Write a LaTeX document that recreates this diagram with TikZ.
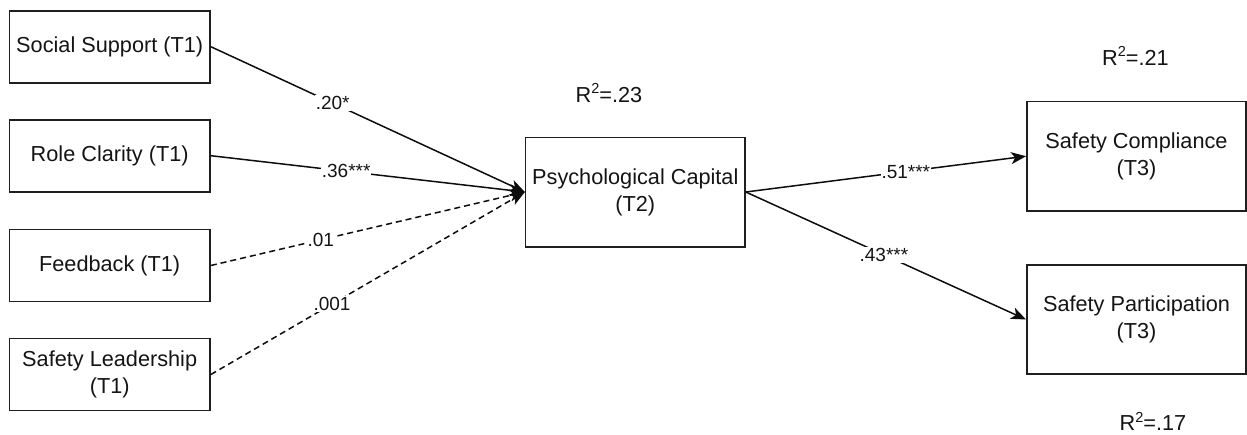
\documentclass[tikz,border=0pt]{standalone}
\usepackage{fontspec}
\setmainfont{Liberation Sans}
\usetikzlibrary{arrows.meta}
\newcommand\varfont{\fontsize{21.7pt}{27pt}\selectfont}
\newcommand\coeffont{\fontsize{19pt}{22pt}\selectfont}
% squared sign for the R-squared labels
\newcommand\sqtwo{\raisebox{8.3pt}{\fontsize{14.5pt}{14.5pt}\selectfont 2}}
\begin{document}
\begin{tikzpicture}[x=1pt,y=-1pt,
  var/.style={draw=black!88, line width=1.6pt, rectangle, inner sep=0pt,
    align=center, font=\varfont, text=black!92},
  leftvar/.style={var, minimum width=200.7pt, minimum height=72pt},
  rightvar/.style={var, minimum width=219.3pt, minimum height=109.4pt},
  link/.style={line width=1.5pt, draw=black!95,
    -{Stealth[length=15pt,width=12pt,inset=4pt]}},
  weak/.style={link, dash pattern=on 6pt off 4pt},
  coef/.style={fill=white, inner sep=1pt, font=\coeffont, text=black!92},
  rsq/.style={font=\varfont, inner sep=0pt, anchor=base, text=black!92}]

\useasboundingbox (0,0) rectangle (1247,434);

% predictors measured at T1
\node[leftvar] (ss) at (109.7,46.7)  {Social Support (T1)};
\node[leftvar] (rc) at (109.7,155.7) {Role Clarity (T1)};
\node[leftvar] (fb) at (109.7,265.5) {Feedback (T1)};
\node[leftvar] (sl) at (109.7,374.5) {Safety Leadership\\(T1)};

% mediator and outcomes
\node[rightvar] (pc) at (635.3,192)   {Psychological Capital\\(T2)};
\node[rightvar] (sc) at (1136.5,156.2) {Safety Compliance\\(T3)};
\node[rightvar] (sp) at (1136.5,319.5) {Safety Participation\\(T3)};

% explained variance
\node[rsq] (r2pc) at (609,102)    {R\sqtwo=.23};
\node[rsq] (r2sc) at (1135.5,65)  {R\sqtwo=.21};
\node[rsq] (r2sp) at (1153,430.5) {R\sqtwo=.17};

% paths into psychological capital
\draw[link] (ss.east) -- (pc.west) node[coef, pos=0.388] {.20*};
\draw[link] (rc.east) -- (pc.west) node[coef, pos=0.431] {.36***};
\draw[weak] (fb.east) -- (pc.west) node[coef, pos=0.35]  {.01};
\draw[weak] (sl.east) -- (pc.west) node[coef, pos=0.386] {.001};

% paths to safety outcomes
\draw[link] (pc.east) -- (sc.west) node[coef, pos=0.571] {.51***};
\draw[link] (pc.east) -- (sp.west) node[coef, pos=0.493] {.43***};
\end{tikzpicture}
\end{document}
